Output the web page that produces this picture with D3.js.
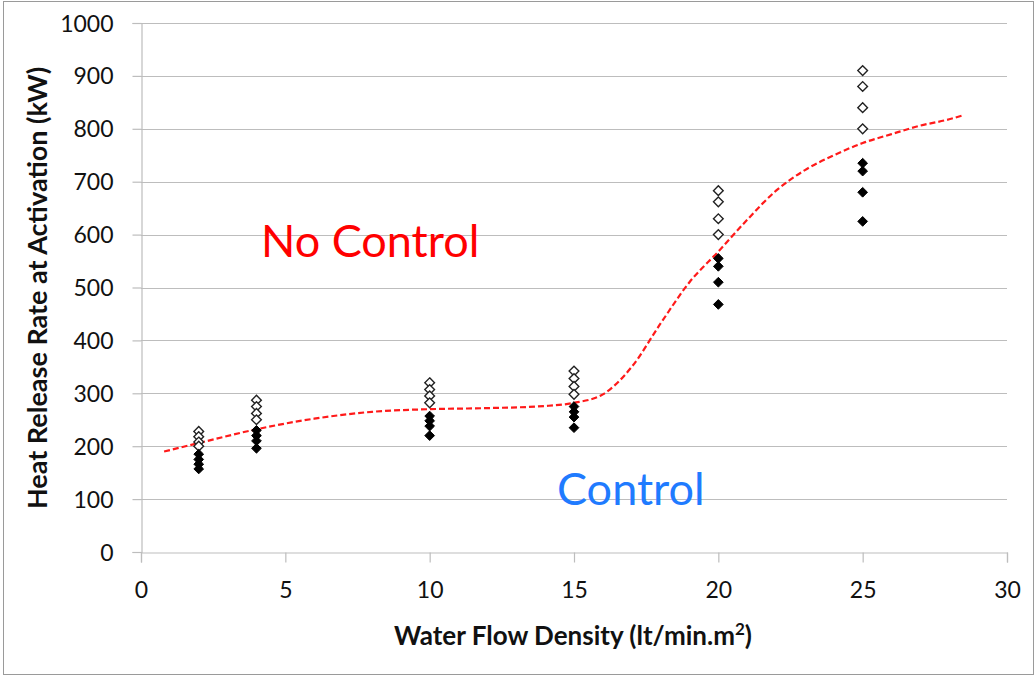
<!DOCTYPE html>
<html><head><meta charset="utf-8">
<script src="https://cdn.jsdelivr.net/npm/d3@7"></script>
<style>body{margin:0;background:#fff}svg{display:block}text{font-family:Lato,"Open Sans",sans-serif}</style>
</head><body><svg id="c" width="1035" height="676"></svg>
<script>
const xTicks = [0,5,10,15,20,25,30];
const yTicks = [0,100,200,300,400,500,600,700,800,900,1000];
const flowDensity = [2,4,10,15,20,25];
const noControl = [
  [228,218,208,200],
  [287,275,262,250],
  [320,307,295,282],
  [342,328,313,298],
  [683,662,630,600],
  [910,880,840,800]
];
const control = [
  [185,175,166,157],
  [230,220,210,196],
  [257,248,238,220],
  [275,265,255,235],
  [555,540,510,468],
  [735,720,680,625]
];
const fitX = [0.8,2,4,6,8,10,12,14,15,16,17,18,19,20,21,22,23,24,25,26,27,28,28.5];
const fitY = [190,206,232,252,265,270,272,276,282,298,350,432,510,568,628,683,722,750,773,790,806,818,826];

const svg = d3.select("#c");
svg.append("rect").attr("x",3.5).attr("y",1.5).attr("width",1030).attr("height",673)
  .attr("fill","#fff").attr("stroke","#9a9a9a").attr("stroke-width",1);

const x = d3.scaleLinear().domain([0,30]).range([141,1007]);
const y = d3.scaleLinear().domain([0,1000]).range([552,23]);

// gridlines
svg.append("g").selectAll("line").data(yTicks.filter(d=>d>0)).join("line")
  .attr("x1",x(0)).attr("x2",x(30)).attr("y1",d=>Math.round(y(d))+0.5).attr("y2",d=>Math.round(y(d))+0.5)
  .attr("stroke","#bdbdbd").attr("stroke-width",1.2);

const xAxis = svg.append("g").attr("transform",`translate(0,${Math.round(y(0))+0.5})`)
  .call(d3.axisBottom(x).tickValues(xTicks).tickSize(10).tickPadding(19).tickFormat(d3.format("d")));
const yAxis = svg.append("g").attr("transform",`translate(${Math.round(x(0))+0.5},0)`)
  .call(d3.axisLeft(y).tickValues(yTicks).tickSize(9).tickPadding(19).tickFormat(d3.format("d")));
[xAxis,yAxis].forEach(a=>{
  a.select(".domain").attr("stroke","#bdbdbd").attr("stroke-width",1.2);
  a.selectAll(".tick line").attr("stroke","#bdbdbd").attr("stroke-width",1.2);
  a.selectAll("text").attr("font-size",23).attr("fill","#111").style("font-family","Lato");
});
yAxis.selectAll(".tick text").attr("dy","0.35em");

// fit curve
const fit = fitX.map((v,i)=>[v,fitY[i]]);
svg.append("path").datum(fit)
  .attr("d",d3.line().x(d=>x(d[0])).y(d=>y(d[1])).curve(d3.curveMonotoneX))
  .attr("fill","none").attr("stroke","#ff1a1a").attr("stroke-width",2.2).attr("stroke-dasharray","6,3");

const diamond = d3.symbol().type(d3.symbolDiamond2).size(60);
const pts = (arr)=>arr.flatMap((vals,i)=>vals.map(v=>({x:flowDensity[i],y:v})));
svg.append("g").selectAll("path").data(pts(noControl)).join("path")
  .attr("d",diamond).attr("transform",d=>`translate(${x(d.x)},${y(d.y)})`)
  .attr("fill","#fff").attr("stroke","#222").attr("stroke-width",1.4);
svg.append("g").selectAll("path").data(pts(control)).join("path")
  .attr("d",diamond).attr("transform",d=>`translate(${x(d.x)},${y(d.y)})`)
  .attr("fill","#000").attr("stroke","#000").attr("stroke-width",1);

svg.append("text").attr("x",261).attr("y",257).attr("font-size",45).attr("fill","#ff0000").text("No Control");
svg.append("text").attr("x",557).attr("y",505).attr("font-size",45).attr("fill","#1f7bff").text("Control");

const xt = svg.append("text").attr("x",573).attr("y",645).attr("text-anchor","middle")
  .attr("font-size",26).attr("font-weight","bold").attr("fill","#111");
xt.append("tspan").text("Water Flow Density (lt/min.m");
xt.append("tspan").attr("font-size",17).attr("dy",-10).text("2");
xt.append("tspan").attr("dy",10).text(")");

svg.append("text").attr("transform","translate(47,288) rotate(-90)").attr("text-anchor","middle")
  .attr("font-size",27).attr("font-weight","bold").attr("fill","#111")
  .text("Heat Release Rate at Activation (kW)");
</script></body></html>
